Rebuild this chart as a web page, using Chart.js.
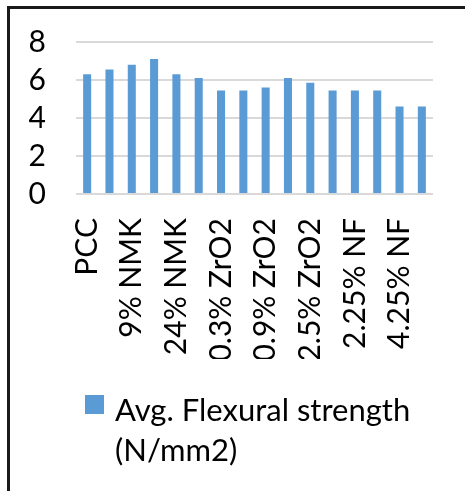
<!DOCTYPE html>
<html>
<head>
<meta charset="utf-8">
<script src="https://cdn.jsdelivr.net/npm/chart.js@4/dist/chart.umd.min.js"></script>
<style>
  html, body { margin: 0; padding: 0; background: #fff; overflow: hidden; }
  #wrap { position: relative; width: 465px; height: 491px; }
  #frame {
    position: absolute; left: 7px; top: 6px; width: 480px; height: 500px;
    border-top: 3px solid #1a1a1a; border-left: 3px solid #1a1a1a;
    pointer-events: none;
  }
  canvas { position: absolute; left: 0; top: 0; }
</style>
</head>
<body>
<div id="wrap">
  <canvas id="chart" width="465" height="491"></canvas>
  <div id="frame"></div>
</div>
<script>
// Mix designs tested
const categories = [
  'PCC', '6% NMK', '9% NMK', '15% NMK', '24% NMK',
  '0.1% ZrO2', '0.3% ZrO2', '0.6% ZrO2', '0.9% ZrO2', '1.5% ZrO2', '2.5% ZrO2',
  '1.25% NF', '2.25% NF', '3.25% NF', '4.25% NF', '5.25% NF'
];
// Average flexural strength, N/mm2
const flexuralStrength = [6.3, 6.55, 6.8, 7.1, 6.3, 6.1, 5.45, 5.45, 5.6, 6.1, 5.85, 5.45, 5.45, 5.45, 4.6, 4.6];
const seriesName = ['Avg. Flexural strength', '(N/mm2)'];
const yTicks = [0, 2, 4, 6, 8];

const FONT = 'Lato, Carlito, "Liberation Sans", sans-serif';
const BLUE = '#5b9bd5';

// Legend below the axis: swatch plus a two-line series name
const legendBelow = {
  id: 'legendBelow',
  afterDraw(chart) {
    const ctx = chart.ctx;
    const ds = chart.data.datasets[0];
    const x = 85, y = 395, box = 19;
    ctx.save();
    ctx.fillStyle = ds.backgroundColor;
    ctx.fillRect(x, y, box, box);
    ctx.fillStyle = '#000';
    ctx.font = '31px ' + FONT;
    ctx.textAlign = 'left';
    ctx.textBaseline = 'alphabetic';
    seriesName.forEach((line, i) => ctx.fillText(line, x + 30, 421 + i * 40));
    ctx.restore();
  }
};

new Chart(document.getElementById('chart'), {
  type: 'bar',
  data: {
    labels: categories,
    datasets: [{
      label: seriesName.join(' '),
      data: flexuralStrength,
      backgroundColor: BLUE,
      borderWidth: 0,
      categoryPercentage: 1,
      barPercentage: 0.36
    }]
  },
  options: {
    responsive: false,
    animation: false,
    events: [],
    layout: { padding: { left: 29, right: 32, top: 42, bottom: 132 } },
    scales: {
      x: {
        grid: { display: false, drawTicks: false },
        border: { display: false },
        afterFit: (axis) => { axis.height = 165; axis.paddingLeft = 0; axis.paddingRight = 0; },
        ticks: {
          autoSkip: false,
          minRotation: 90,
          maxRotation: 90,
          padding: 24,
          color: '#000',
          font: { family: FONT, size: 30 },
          callback: (v, i) => (i % 2 === 0 ? categories[i] : '')
        }
      },
      y: {
        min: yTicks[0],
        max: yTicks[yTicks.length - 1],
        afterBuildTicks: (axis) => { axis.ticks = yTicks.map(v => ({ value: v })); },
        afterFit: (axis) => { axis.width = 47; axis.paddingTop = 0; axis.paddingBottom = 0; },
        grid: { color: '#d9d9d9', lineWidth: 2, drawTicks: false },
        border: { display: false },
        ticks: {
          autoSkip: false,
          padding: 30,
          color: '#000',
          font: { family: FONT, size: 30 }
        }
      }
    },
    plugins: {
      tooltip: { enabled: false },
      legend: { display: false }
    }
  },
  plugins: [legendBelow]
});
</script>
</body>
</html>
